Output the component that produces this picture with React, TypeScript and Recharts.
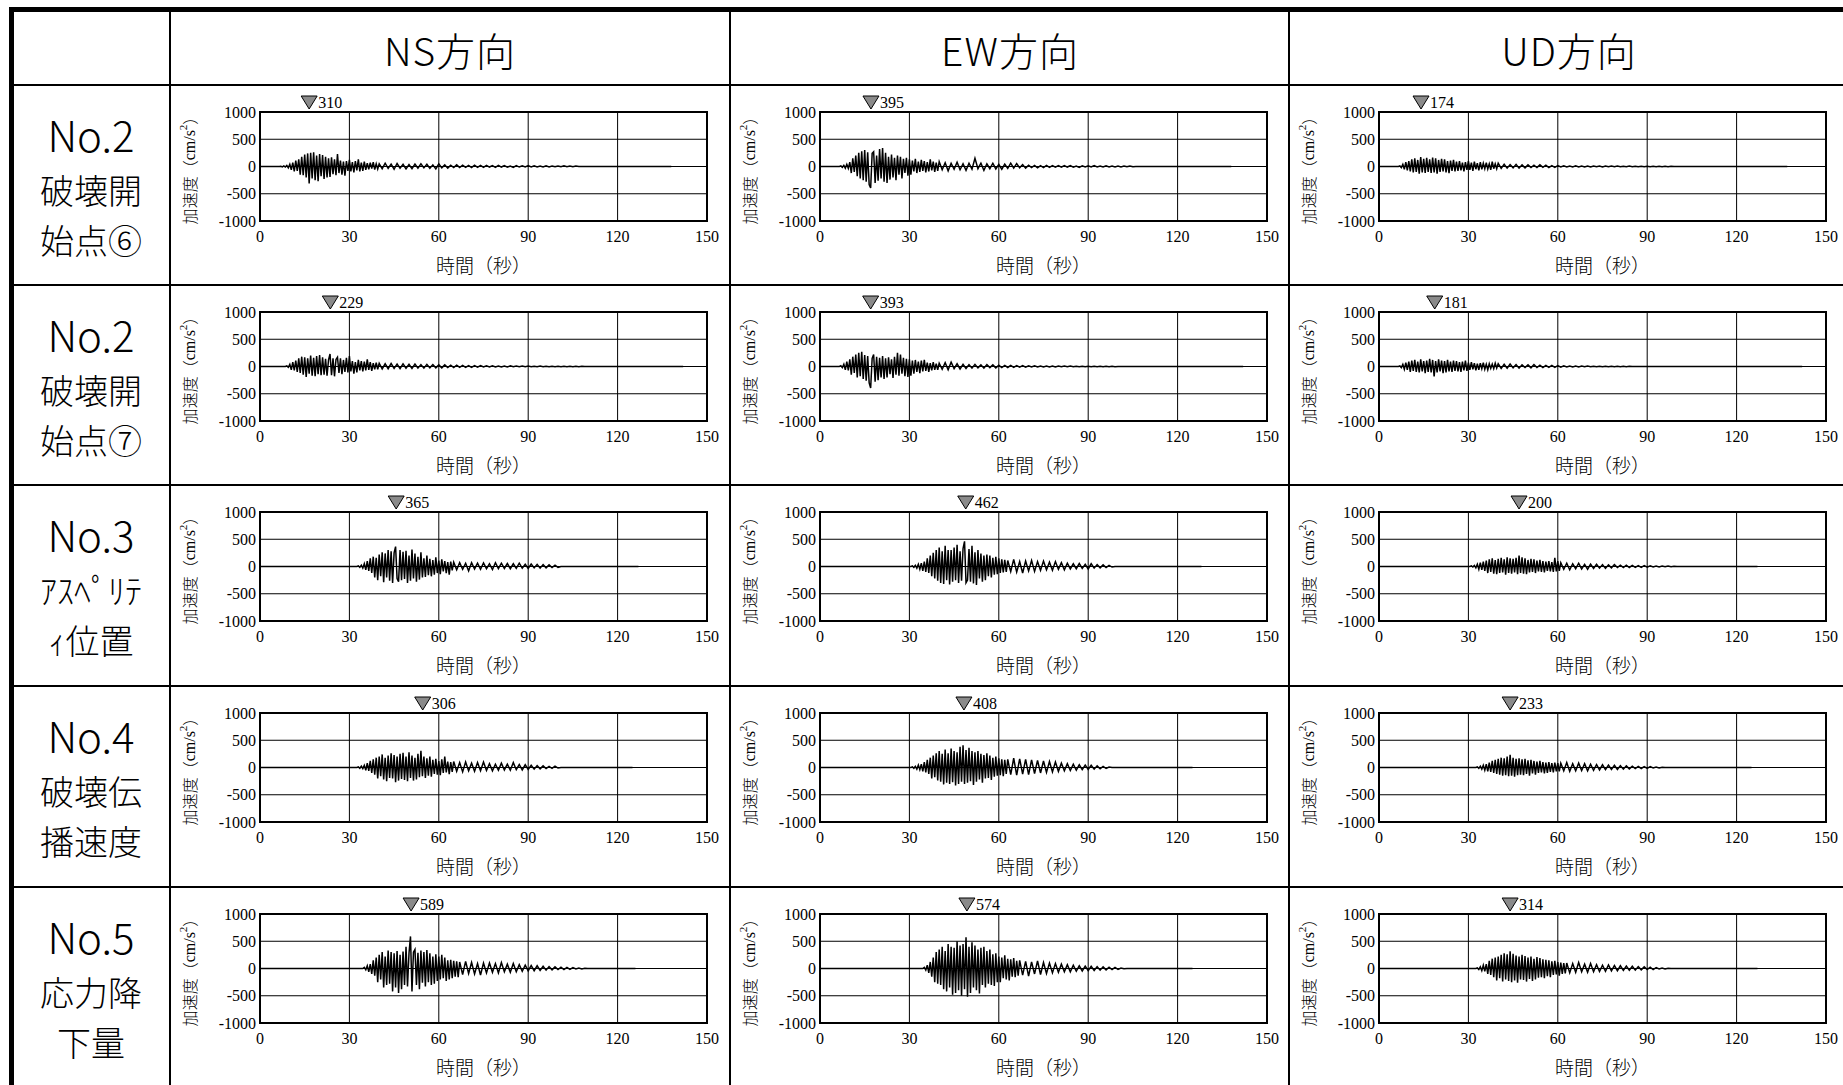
import React from 'react';
import { LineChart, Line, XAxis, YAxis, CartesianGrid, ReferenceArea, ReferenceDot } from 'recharts';

// column / row headings
const directions = ['NS方向', 'EW方向', 'UD方向'];
const caseLabels = [
  ['No.2', '破壊開', '始点⑥'],
  ['No.2', '破壊開', '始点⑦'],
  ['No.3', 'ｱｽﾍﾟﾘﾃ', 'ｨ位置'],
  ['No.4', '破壊伝', '播速度'],
  ['No.5', '応力降', '下量'],
];
const timeTicks = [0, 30, 60, 90, 120, 150];
const accTicks = [-1000, -500, 0, 500, 1000];

// max |acc| (cm/s2) and the time it occurs (s), [NS, EW, UD]
const peakValue = [
  [310, 395, 174],
  [229, 393, 181],
  [365, 462, 200],
  [306, 408, 233],
  [589, 574, 314],
];
const peakTime = [
  [16.5, 17.1, 14.1],
  [23.6, 17.0, 18.7],
  [45.7, 48.9, 47.0],
  [54.6, 48.3, 44.0],
  [50.7, 49.3, 44.0],
];

// onset of the 0.5 s samples and end of the record (s)
const startTime = [
  [7, 7, 7],
  [9, 7, 7],
  [33, 31, 31],
  [33, 31, 33],
  [35, 35, 33],
];
const endTime = [
  [138, 138, 137],
  [142, 142, 142],
  [127, 128, 127],
  [125, 125, 125],
  [126, 125, 127],
];

// strong motion, 0.5 s step; coda, 1 s step
const c6NS = [5, -8, 12, -10, 20, -25, 40, -60, 70, -90, 110, -80, 130, -150, 180, -160, 220, -200, 240, -310, 250, -220, 260, -250, 200, -270, 230, -180, 210, -230, 180, -200, 150, -190, 170, -140, 130, -160, 230, -120, 110, -150, 90, -170, 100, -80, 120, -90, 80, -110, 100, -70, 130, -90, 70, -80, 90, -60, 60, -50, 70, -40, 80, -55, 50, -45];
const c6NSCoda = [50, -40, 60, -35, 45, -50, 55, -30, 40, -45, 35, -40, 45, -30, 50, -25, 40, -35, 30, -45, 50, -25, 30, -30, 25, -20, 30, -20, 25, -15, 20, -20, 25, -15, 20, -15, 20, -10, 15, -15, 20, -10, 15, -12, 10, -15, 18, -10, 12, -10, 15, -8, 12, -10, 10, -8, 12, -8, 10, -6, 10, -6, 12, -5, 8, -5, 10, 0];
const c6EW = [10, -15, 20, -30, 40, -35, 80, -120, 150, -100, 200, -180, 250, -220, 280, -250, 300, -280, 260, -330, -395, 240, 270, -300, 200, -260, 320, -220, 340, -280, 250, -300, 180, -240, 220, -200, 160, -250, 200, -150, 180, -220, 140, -120, 160, -170, 130, -150, 110, -90, 140, -120, 90, -100, 120, -80, 100, -110, 80, -90, 130, -70, 90, -100, 70, -80];
const c6EWCoda = [90, -60, 70, -80, 60, -50, 80, -60, 50, -70, 60, -50, 150, -40, 60, -70, 50, -40, 60, -45, 40, -50, 45, -35, 60, -30, 55, -25, 35, -30, 25, -20, 20, -25, 15, -20, 20, -15, 18, -12, 15, -12, 18, -10, 15, -12, 10, -15, 12, -10, 12, -10, 15, -8, 10, -10, 12, -8, 10, -8, 10, -8, 8, -6, 10, -5, 0];
const c6UD = [10, -20, 40, -50, 80, -70, 100, -90, 130, -110, 150, -100, 120, -130, 174, -110, 140, -120, 160, -100, 130, -120, 165, -110, 150, -130, 120, -100, 140, -90, 130, -110, 100, -120, 110, -80, 120, -90, 90, -80, 100, -70, 70, -90, 80, -60, 100, -60, 70, -80, 90, -50, 60, -70, 80, -50, 60, -40, 70, -45, 50, -60, 90, -40, 50, -40];
const c6UDCoda = [60, -35, 40, -30, 35, -25, 40, -30, 30, -25, 30, -20, 25, -20, 30, -15, 25, -20, 15, -15, 15, -10, 12, -10, 10, -8, 12, -10, 10, -8, 10, -8, 10, -6, 8, -8, 10, -6, 8, -6, 8, -6, 6, -6, 8, -5, 6, -5, 6, -5, 6, -5, 5, -4, 6, -4, 5, -4, 5, 0];

const c7NS = [10, -15, 40, -60, 80, -70, 110, -100, 150, -120, 180, -150, 170, -190, 150, -130, 200, -170, 160, -180, 190, -140, 210, -160, 170, -150, 140, -170, 120, 229, -160, 150, -180, 130, 170, -120, 150, -140, 120, -100, 160, -110, 190, -90, 100, -130, 80, -110, 120, -70, 100, -90, 90, -70, 130, -60, 80, -80, 60, -50, 70, -50];
const c7NSCoda = [60, -45, 50, -40, 55, -35, 45, -40, 50, -30, 40, -35, 45, -30, 35, -30, 40, -25, 35, -25, 30, -25, 30, -20, 25, -20, 25, -15, 20, -15, 18, -15, 15, -12, 15, -10, 12, -10, 12, -8, 10, -8, 10, -8, 12, -6, 8, -6, 8, -5, 8, -5, 6, -5, 8, -4, 6, -4, 5, -3, 5, -4, 6, -3, 5, -3, 4, -3, 3, 0];
const c7EW = [15, -20, 40, -60, 90, -70, 130, -150, 180, -120, 220, -200, 250, -180, 270, -230, 210, -260, 190, -300, -393, 150, 220, -280, 180, -250, 160, -200, 190, -230, 150, -200, 170, -140, 130, -210, 180, -150, 250, -170, 220, -130, 160, -180, 140, -190, 130, -170, 110, -130, 120, -100, 90, -120, 110, -90, 120, -80, 70, -100, 60, -70, 80, -60, 50, -60];
const c7EWCoda = [60, -50, 70, -60, 80, -40, 50, -45, 40, -35, 35, -30, 40, -25, 30, -30, 35, -20, 30, -25, 25, -20, 20, -18, 20, -15, 18, -12, 15, -12, 12, -10, 12, -10, 10, -8, 10, -8, 10, -8, 8, -6, 8, -6, 8, -6, 6, -5, 6, -5, 6, -5, 5, -4, 5, -4, 5, -4, 4, -3, 0];
const c7UD = [10, -20, 40, -50, 70, -60, 90, -100, 110, -80, 120, -100, 90, -110, 130, -90, 100, -120, 110, -100, 140, -110, 120, -181, 100, -110, 130, -90, 110, -120, 100, -110, 120, -90, 90, -100, 110, -80, 100, -90, 80, -100, 90, -70, 110, -80, 70, -60, 80, -50, 60, -70, 50, -60, 60, -40, 70, -50, 40, -60, 50, -35, 45, -40, 60, -30];
const c7UDCoda = [50, -35, 40, -30, 45, -25, 35, -30, 30, -20, 30, -25, 35, -20, 25, -20, 20, -15, 20, -15, 15, -12, 12, -10, 10, -10, 8, -8, 10, -6, 8, -6, 6, -5, 6, -5, 5, -4, 5, -4, 4, -3, 5, -3, 4, 0];

const aspNS = [10, -15, 25, -30, 50, -60, 100, -80, 150, -120, 180, -200, 160, -250, 220, -180, 260, -290, 240, -200, 300, -260, 280, -300, 250, 365, -220, -280, 300, -250, 270, -230, 290, -300, 200, -260, 310, -220, 240, -280, 180, -240, 260, -200, 150, -190, 200, -160, 140, -180, 120, -150, 170, -120, 110, -140, 130, -90, 100, -120, 80, -150, 90, -70];
const aspNSCoda = [80, -60, 70, -50, 60, -80, 70, -45, 60, -50, 65, -40, 50, -55, 70, -40, 60, -35, 55, -40, 50, -35, 60, -30, 40, -35, 45, -25, 40, -30, 35, -25, 30, -20, 25, -15, 0];
const aspEW = [10, -15, 20, -30, 40, -50, 60, -80, 90, -100, 150, -120, 200, -180, 250, -220, 300, -260, 350, -300, 280, -320, 380, -250, 300, -330, 300, -280, 350, -250, 400, -300, 280, -260, 330, 462, -300, -250, 320, -280, 380, -310, 260, -340, 300, -220, 240, -280, 200, -250, 220, -180, 200, -200, 160, -150, 180, -140, 150, -120, 130, -110, 120, -100];
const aspEWCoda = [110, -90, 130, -100, 90, -120, 100, -80, 110, -90, 90, -70, 100, -60, 80, -70, 90, -50, 70, -60, 60, -45, 50, -40, 55, -35, 40, -45, 50, -30, 35, -25, 30, -20, 20, -10, 0];
const aspUD = [10, -10, 20, -25, 40, -50, 70, -60, 90, -80, 110, -120, 130, -100, 150, -130, 120, -140, 140, -120, 160, -110, 130, -150, 170, -120, 150, -130, 140, -110, 160, -140, 200, -120, 170, -130, 150, -140, 120, -110, 140, -100, 130, -120, 110, -90, 120, -100, 100, -110, 90, -80, 100, -90, 80, -100, 160, -90, 100, -80];
const aspUDCoda = [70, -50, 60, -60, 50, -40, 60, -45, 40, -50, 45, -35, 40, -30, 35, -35, 30, -25, 35, -20, 25, -20, 25, -18, 20, -15, 18, -15, 15, -12, 12, -10, 10, -8, 10, -6, 8, -5, 5, 0];

const velNS = [10, -15, 25, -20, 40, -50, 80, -60, 120, -100, 150, -130, 180, -200, 200, -160, 240, -220, 180, -250, 220, -190, 260, -200, 230, -270, 200, -240, 250, -210, 270, -230, 200, -250, 280, -190, 220, -240, 180, -220, 250, -180, 306, -160, 200, -190, 170, -150, 200, -170, 140, -120, 160, -130, 120, -140, 150, -100, 200, -90, 110, -120, 100, -80];
const velNSCoda = [110, -70, 90, -80, 100, -60, 80, -70, 90, -60, 100, -55, 70, -60, 60, -50, 80, -45, 60, -50, 90, -40, 55, -45, 50, -35, 40, -30, 35, -25, 30, -20, 20, -15, 25, -10, 0];
const velEW = [10, -15, 20, -30, 45, -40, 60, -70, 100, -90, 140, -120, 180, -200, 220, -180, 260, -240, 300, -260, 250, -310, 330, -280, 260, -300, 350, -270, 300, -330, 280, -300, 380, -260, 408, -300, 320, -280, 360, -250, 300, -320, 280, -260, 300, -220, 250, -280, 230, -200, 260, -190, 220, -230, 180, -170, 200, -150, 170, -140, 150, -160, 140, -120];
const velEWCoda = [150, -130, 170, -140, 160, -120, 150, -130, 140, -110, 130, -100, 120, -90, 110, -80, 100, -70, 80, -60, 70, -55, 60, -50, 50, -40, 45, -35, 40, -30, 30, -25, 20, -15, 10, 0];
const velUD = [10, -15, 25, -30, 40, -50, 60, -70, 90, -80, 120, -100, 140, -120, 160, -130, 180, -150, 170, -140, 200, -160, 233, -150, 180, -170, 160, -140, 170, -130, 150, -140, 160, -120, 130, -150, 140, -110, 120, -130, 110, -100, 120, -90, 100, -110, 90, -100, 100, -80, 80, -90, 90, -70, 80, -70];
const velUDCoda = [80, -60, 90, -70, 70, -60, 80, -55, 70, -60, 60, -50, 55, -45, 50, -40, 45, -35, 40, -35, 35, -30, 30, -25, 25, -20, 20, -18, 18, -15, 15, -10, 10, -8, 5, 0];

const strNS = [20, -25, 50, -60, 80, -100, 150, -130, 200, -250, 250, -200, 300, -350, 220, -300, 330, -280, 300, -420, 280, -350, 320, -450, 250, -380, 310, -300, 400, -330, 280, 589, -420, 300, 350, -300, 290, -380, 330, -260, 300, -330, 340, -250, 280, -300, 220, -280, 260, -230, 220, -200, 250, -180, 200, -230, 150, -200, 160, -180, 140, -150, 130, -160];
const strNSCoda = [120, -110, 130, -90, 110, -100, 90, -120, 100, -80, 100, -70, 90, -80, 110, -60, 80, -70, 90, -60, 70, -50, 60, -45, 55, -40, 50, -35, 40, -30, 35, -25, 30, -20, 25, -20, 20, -15, 15, -10, 10, -8, 5, 0];
const strEW = [20, -30, 60, -80, 120, -150, 200, -250, 300, -280, 350, -300, 400, -380, 320, -420, 450, -350, 400, -480, 380, -450, 500, -400, 420, -500, 450, -380, 574, -520, 400, -450, 480, -350, 420, -400, 350, -460, 380, -300, 400, -350, 320, -280, 350, -300, 260, -320, 280, -250, 220, -250, 200, -180, 240, -200, 180, -220, 170, -150, 190, -160, 140, -130];
const strEWCoda = [150, -120, 130, -140, 120, -100, 140, -110, 110, -90, 100, -80, 90, -70, 80, -60, 70, -60, 60, -50, 50, -45, 45, -40, 40, -35, 35, -30, 30, -25, 25, -20, 20, -15, 10, -5, 0];
const strUD = [10, -20, 30, -40, 60, -50, 80, -100, 140, -120, 180, -160, 200, -220, 220, -180, 250, -240, 280, -200, 260, -230, 314, -250, 270, -220, 240, -260, 220, -200, 250, -210, 230, -240, 200, -190, 220, -230, 180, -200, 210, -170, 190, -160, 170, -180, 160, -140, 150, -160, 130, -120, 140, -110, 120, -130, 110, -100, 100, -90];
const strUDCoda = [100, -80, 90, -70, 110, -60, 80, -70, 90, -60, 70, -55, 60, -50, 65, -45, 55, -40, 50, -35, 45, -30, 40, -30, 35, -25, 30, -20, 25, -20, 15, -10, 10, -8, 5, 0];

const strong = [
  [c6NS, c6EW, c6UD],
  [c7NS, c7EW, c7UD],
  [aspNS, aspEW, aspUD],
  [velNS, velEW, velUD],
  [strNS, strEW, strUD],
];
const coda = [
  [c6NSCoda, c6EWCoda, c6UDCoda],
  [c7NSCoda, c7EWCoda, c7UDCoda],
  [aspNSCoda, aspEWCoda, aspUDCoda],
  [velNSCoda, velEWCoda, velUDCoda],
  [strNSCoda, strEWCoda, strUDCoda],
];

function buildRecord(r: number, c: number) {
  const t0 = startTime[r][c];
  const main = strong[r][c];
  const tail = coda[r][c];
  const pts: { t: number; a: number }[] = [{ t: 0, a: 0 }, { t: t0 - 0.5, a: 0 }];
  main.forEach((a, i) => pts.push({ t: t0 + i * 0.5, a }));
  const tc = t0 + main.length * 0.5;
  tail.forEach((a, i) => pts.push({ t: tc + i, a }));
  pts.push({ t: endTime[r][c], a: 0 });
  return pts;
}

const colX = [12, 170, 730, 1289];
const rowY = [10, 85, 285, 485, 686, 887];
const CELL_W = 560;
const CELL_H = 200;
const serif = "'Liberation Serif', 'DejaVu Serif', serif";
const gothic = "'Noto Sans CJK JP', 'Noto Sans', sans-serif";
const numStyle = { fontFamily: serif, fontSize: 16, fill: '#000' };

const XTick = (props: any) => {
  const { x, y, payload } = props;
  return (
    <text x={x} y={y + 2} textAnchor="middle" dominantBaseline="hanging" style={numStyle}>
      {payload.value}
    </text>
  );
};

const YTick = (props: any) => {
  const { x, y, payload } = props;
  return (
    <text x={x} y={y} textAnchor="end" dominantBaseline="central" style={numStyle}>
      {payload.value}
    </text>
  );
};

const PeakMarker = (props: any) => {
  const { cx, cy, value } = props;
  const tip = cy - 3;
  return (
    <g>
      <polygon
        points={`${cx - 8},${tip - 13} ${cx + 8},${tip - 13} ${cx},${tip}`}
        fill="#8a8a8a"
        stroke="#000"
        strokeWidth={1}
      />
      <text x={cx + 9} y={tip - 1} style={{ fontFamily: serif, fontSize: 16, fill: '#000' }}>
        {value}
      </text>
    </g>
  );
};

const YLabel = (props: any) => {
  const { viewBox } = props;
  const cx = 19;
  const cy = viewBox.y + viewBox.height / 2;
  return (
    <text
      x={cx}
      y={cy}
      transform={`rotate(-90, ${cx}, ${cy})`}
      textAnchor="middle"
      dominantBaseline="central"
      style={{ fontSize: 16, fill: '#000' }}
    >
      <tspan style={{ fontFamily: gothic, fontWeight: 300 }}>加速度（</tspan>
      <tspan style={{ fontFamily: serif }}>cm/s</tspan>
      <tspan style={{ fontFamily: serif, fontSize: 11 }} dy={-6}>2</tspan>
      <tspan style={{ fontFamily: gothic, fontWeight: 300 }} dy={6}>）</tspan>
    </text>
  );
};

const XLabel = (props: any) => {
  const { viewBox } = props;
  return (
    <text
      x={viewBox.x + viewBox.width / 2}
      y={viewBox.y + 43}
      textAnchor="middle"
      dominantBaseline="central"
      style={{ fontFamily: gothic, fontWeight: 300, fontSize: 19, fill: '#000' }}
    >
      時間（秒）
    </text>
  );
};

function Record({ r, c }: { r: number; c: number }) {
  const data = buildRecord(r, c);
  return (
    <LineChart width={CELL_W} height={CELL_H} data={data} margin={{ top: 27, right: 23, bottom: 30, left: 0 }}>
      <CartesianGrid stroke="#000" strokeWidth={1} />
      <XAxis
        type="number"
        dataKey="t"
        domain={[0, 150]}
        ticks={timeTicks}
        height={34}
        tickLine={false}
        axisLine={false}
        interval={0}
        tick={<XTick />}
        label={<XLabel />}
      />
      <YAxis
        type="number"
        domain={[-1000, 1000]}
        ticks={accTicks}
        width={90}
        tickLine={false}
        axisLine={false}
        tickSize={2}
        tickMargin={2}
        interval={0}
        tick={<YTick />}
        label={<YLabel />}
      />
      <Line type="linear" dataKey="a" stroke="#000" strokeWidth={1.5} dot={false} isAnimationActive={false} />
      <ReferenceArea x1={0} x2={150} y1={-1000} y2={1000} fill="none" stroke="#000" strokeWidth={2} ifOverflow="visible" />
      <ReferenceDot
        x={peakTime[r][c]}
        y={1000}
        r={0}
        ifOverflow="visible"
        shape={(p: any) => <PeakMarker {...p} value={peakValue[r][c]} />}
      />
    </LineChart>
  );
}

export default function App() {
  const lines: React.ReactNode[] = [];
  // inner grid lines of the table
  [colX[1], colX[2], colX[3]].forEach((x, i) =>
    lines.push(<div key={'v' + i} style={{ position: 'absolute', left: x - 1, top: rowY[0], width: 2, height: 1100, background: '#000' }} />)
  );
  rowY.slice(1).forEach((y, i) =>
    lines.push(<div key={'h' + i} style={{ position: 'absolute', left: colX[0], top: y - 1, width: 1850, height: 2, background: '#000' }} />)
  );

  return (
    <div style={{ position: 'absolute', left: 0, top: 0, width: 1843, height: 1085, overflow: 'hidden', background: '#fff' }}>
      {directions.map((d, c) => (
        <div
          key={d}
          style={{
            position: 'absolute',
            left: colX[c + 1],
            top: rowY[0],
            width: CELL_W,
            height: rowY[1] - rowY[0],
            display: 'flex',
            alignItems: 'center',
            justifyContent: 'center',
            fontFamily: gothic,
            fontSize: 39,
            fontWeight: 300,
            letterSpacing: 1,
            paddingTop: 2,
            boxSizing: 'border-box',
          }}
        >
          {d}
        </div>
      ))}
      {caseLabels.map((lab, r) => (
        <div
          key={r}
          style={{
            position: 'absolute',
            left: colX[0],
            top: rowY[r + 1],
            width: colX[1] - colX[0],
            height: CELL_H,
            display: 'flex',
            flexDirection: 'column',
            alignItems: 'center',
            justifyContent: 'center',
            fontFamily: gothic,
            fontWeight: 300,
            paddingBottom: 2,
            boxSizing: 'border-box',
          }}
        >
          <div style={{ fontSize: 42, lineHeight: '62px' }}>{lab[0]}</div>
          <div style={{ fontSize: 34, lineHeight: '50px' }}>{lab[1]}</div>
          <div style={{ fontSize: 34, lineHeight: '50px' }}>{lab[2]}</div>
        </div>
      ))}
      {caseLabels.map((_, r) =>
        directions.map((__, c) => (
          <div key={r + '-' + c} style={{ position: 'absolute', left: colX[c + 1], top: rowY[r + 1] }}>
            <Record r={r} c={c} />
          </div>
        ))
      )}
      {lines}
      <div style={{ position: 'absolute', left: 9, top: 7, width: 1850, height: 1100, borderLeft: '5px solid #000', borderTop: '5px solid #000' }} />
    </div>
  );
}
